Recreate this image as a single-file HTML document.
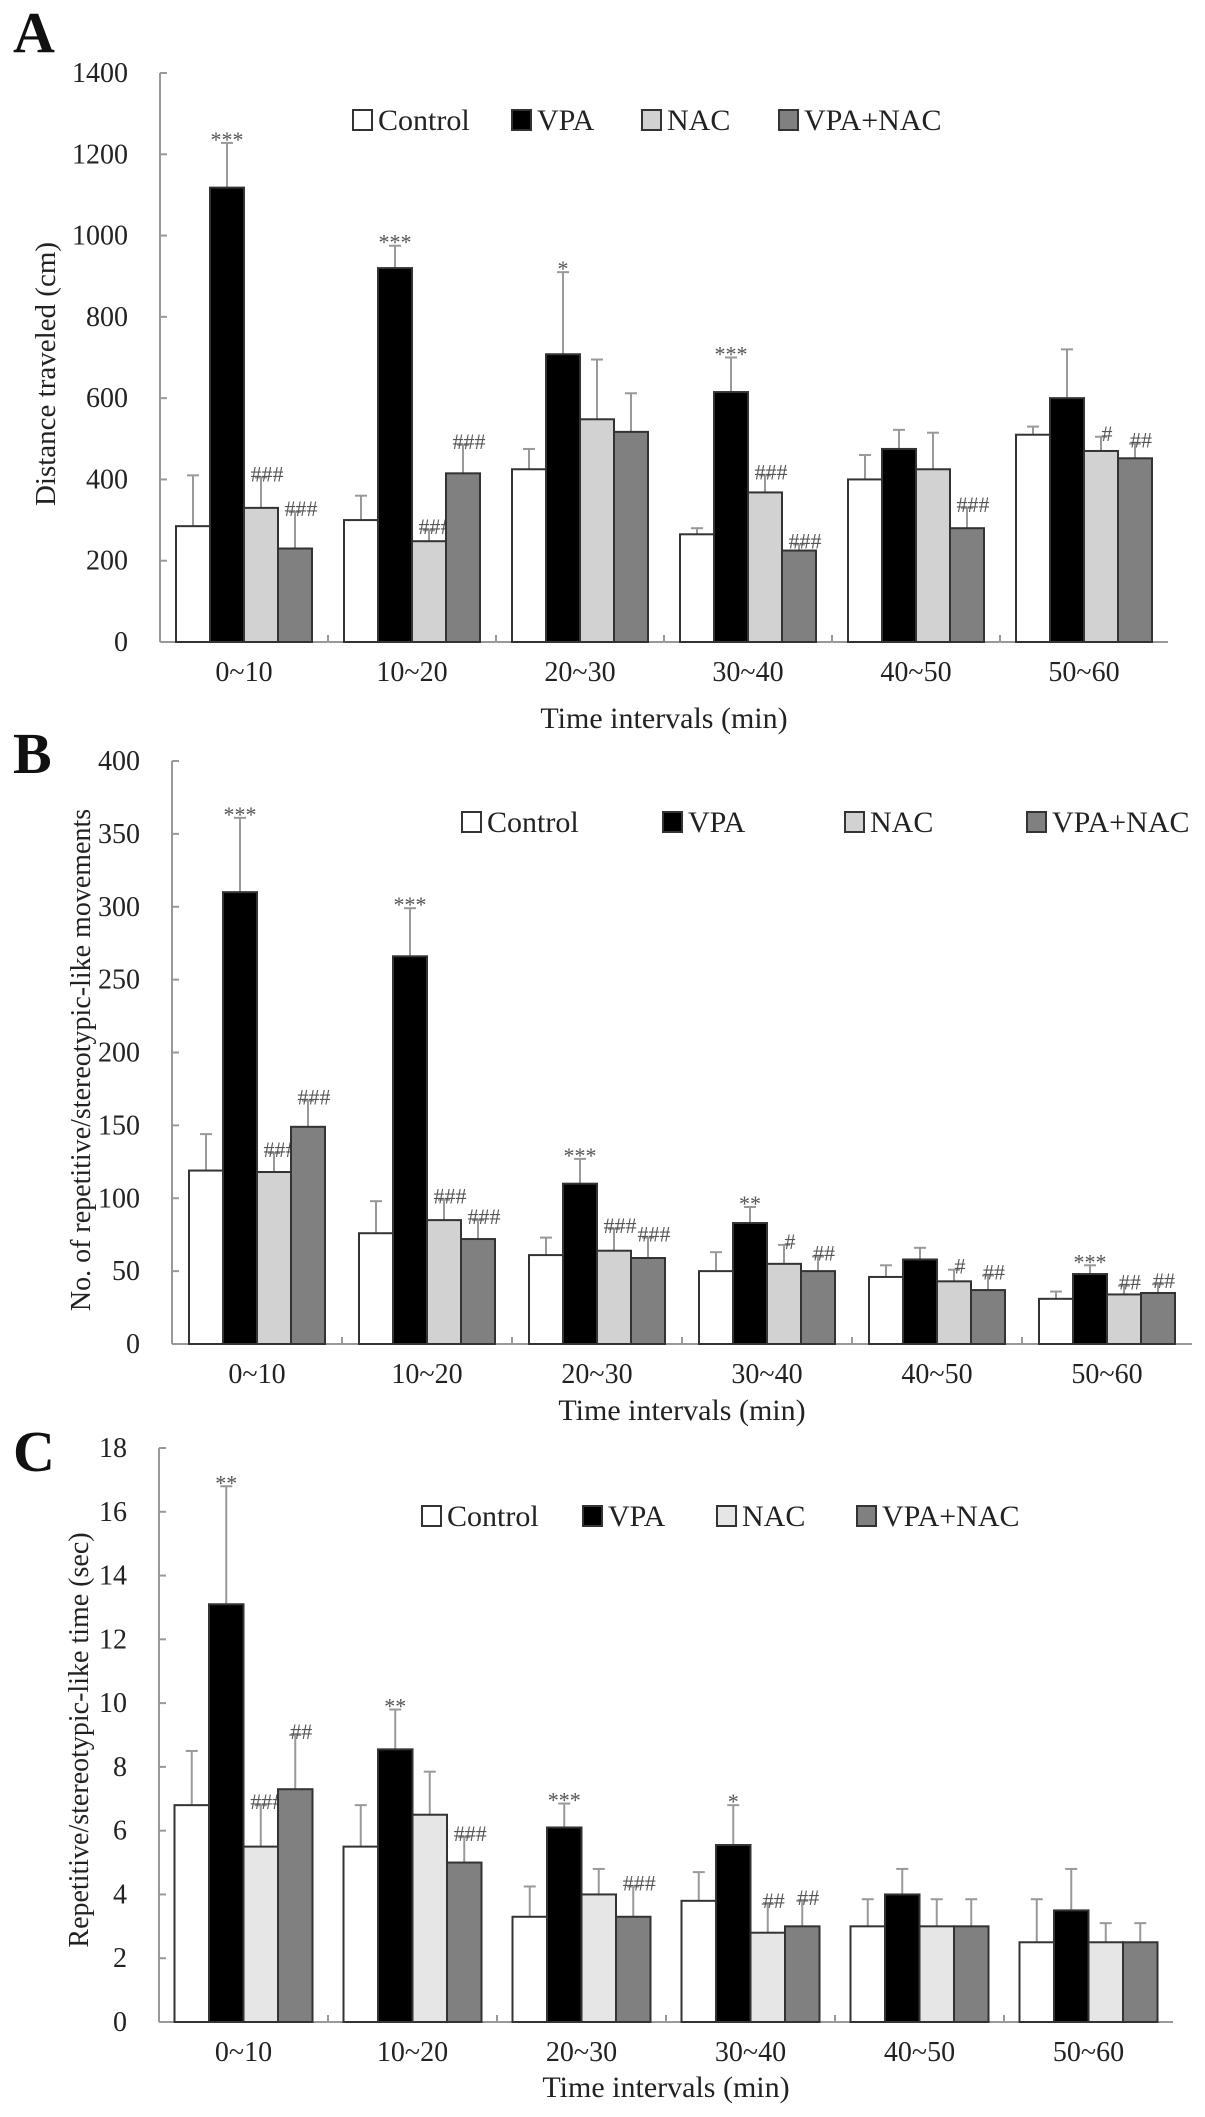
<!DOCTYPE html>
<html><head><meta charset="utf-8"><style>
html,body{margin:0;padding:0;background:#fff;}
svg{display:block;font-family:"Liberation Serif","DejaVu Serif",serif;}
</style></head><body>
<svg id="fig" width="1205" height="2117" viewBox="0 0 1205 2117" xmlns="http://www.w3.org/2000/svg"></svg>
<script>
const categories = ["0~10","10~20","20~30","30~40","40~50","50~60"];
const seriesNames = ["Control","VPA","NAC","VPA+NAC"];
// Panel A: distance traveled
const aControl = [285,300,425,265,400,510];
const aVPA = [1118,920,708,615,475,600];
const aNAC = [330,248,548,368,425,470];
const aVN = [230,415,517,225,280,452];
const aControlErr = [410,360,475,280,460,530];
const aVPAErr = [1228,975,910,700,522,720];
const aNACErr = [405,275,695,410,515,505];
const aVNErr = [320,485,612,240,330,488];
const aVPAMark = ["***","***","*","***","",""];
const aNACMark = ["###","###","","###","","#"];
const aVNMark = ["###","###","","###","###","##"];
const aTicks = [0,200,400,600,800,1000,1200,1400];
// Panel B: repetitive movements
const bControl = [119,76,61,50,46,31];
const bVPA = [310,266,110,83,58,48];
const bNAC = [118,85,64,55,43,34];
const bVN = [149,72,59,50,37,35];
const bControlErr = [144,98,73,63,54,36];
const bVPAErr = [361,299,127,94,66,54];
const bNACErr = [131,99,79,68,51,40];
const bVNErr = [167,85,73,60,47,41];
const bVPAMark = ["***","***","***","**","","***"];
const bNACMark = ["###","###","###","#","#","##"];
const bVNMark = ["###","###","###","##","##","##"];
const bTicks = [0,50,100,150,200,250,300,350,400];
// Panel C: repetitive time
const cControl = [6.8,5.5,3.3,3.8,3.0,2.5];
const cVPA = [13.1,8.55,6.1,5.55,4.0,3.5];
const cNAC = [5.5,6.5,4.0,2.8,3.0,2.5];
const cVN = [7.3,5.0,3.3,3.0,3.0,2.5];
const cControlErr = [8.5,6.8,4.25,4.7,3.85,3.85];
const cVPAErr = [16.8,9.8,6.85,6.8,4.8,4.8];
const cNACErr = [6.8,7.85,4.8,3.7,3.85,3.1];
const cVNErr = [9.0,5.8,4.25,3.8,3.85,3.1];
const cVPAMark = ["**","**","***","*","",""];
const cNACMark = ["###","","","##","",""];
const cVNMark = ["##","###","###","##","",""];
const cTicks = [0,2,4,6,8,10,12,14,16,18];

const NS="http://www.w3.org/2000/svg";
const svg=document.getElementById('fig');
function mk(tag,attrs,parent){const e=document.createElementNS(NS,tag);for(const k in attrs)e.setAttribute(k,attrs[k]);(parent||svg).appendChild(e);return e;}
function txt(s,attrs,parent){const e=mk('text',attrs,parent);e.textContent=s;return e;}

function panel(cfg){
  const g=mk('g',{});
  
  
  const x0=cfg.ax, x1=cfg.right, y0=cfg.y0, yt=cfg.ytop, vmax=cfg.ticks[cfg.ticks.length-1];
  const ys=v=>y0-(v/vmax)*(y0-yt);
  const cw=(x1-x0)/categories.length;
  const bw=cfg.bw;
  const xs=(ci,si)=>x0+ci*cw+(cw-4*bw)/2+si*bw;
  // panel letter
  const L=txt(cfg.letter,{x:13,y:cfg.letterY,'font-size':58,'font-weight':'bold',fill:'#111'},g);
  
  
  // axes
  const ya=mk('line',{x1:x0,y1:yt,x2:x0,y2:y0,stroke:'#999','stroke-width':2},g);
  
  
  const xa=mk('line',{x1:x0,y1:y0,x2:x1,y2:y0,stroke:'#999','stroke-width':2},g);
  
  
  cfg.ticks.forEach(t=>{
    const y=ys(t);
    mk('line',{x1:x0,y1:y,x2:x0+7,y2:y,stroke:'#999','stroke-width':2},g);
    const tl=txt(String(t),{x:x0-32,y:y+9,'font-size':28,'text-anchor':'end',fill:'#222'},g);
    
    
  });
  categories.forEach((c,ci)=>{
    if(ci>0) mk('line',{x1:x0+ci*cw,y1:y0,x2:x0+ci*cw,y2:y0-7,stroke:'#999','stroke-width':2},g);
    const cl=txt(c,{x:x0+ci*cw+cw/2,y:y0+39,'font-size':28,'text-anchor':'middle',fill:'#222'},g);
    
    
  });
  const fills=['#ffffff','#000000',cfg.nacFill,'#808080'];
  cfg.series.forEach((vals,si)=>{
    vals.forEach((v,ci)=>{
      const x=xs(ci,si), e=cfg.errs[si][ci];
      const el=mk('line',{x1:x+bw/2,y1:ys(e),x2:x+bw/2,y2:ys(v),stroke:'#999','stroke-width':2},g);
      
      
      mk('line',{x1:x+bw/2-6,y1:ys(e),x2:x+bw/2+6,y2:ys(e),stroke:'#999','stroke-width':2},g);
      const r=mk('rect',{x:x,y:ys(v),width:bw,height:y0-ys(v),fill:fills[si],stroke:'#333','stroke-width':2},g);
      
      
      const m=cfg.marks[si]?cfg.marks[si][ci]:'';
      if(m){
        const mt=txt(m,{x:x+bw/2+(si>=2?6:0),y:ys(e)+4,'font-size':22,'text-anchor':'middle',fill:'#555'},g);
        
        
      }
    });
  });
  // legend
  cfg.legX.forEach((lx,si)=>{
    const lg=mk('g',{},g);
    
    
    mk('rect',{x:lx,y:cfg.legY-10,width:19,height:20,fill:fills[si],stroke:'#333','stroke-width':2},lg);
    txt(seriesNames[si],{x:lx+25,y:cfg.legY+10,'font-size':30,fill:'#222'},lg);
  });
  const xt=txt('Time intervals (min)',{x:(x0+x1)/2,y:cfg.xTitleY,'font-size':30,'text-anchor':'middle',fill:'#222'},g);
  
  
  const yt2=txt(cfg.ytitle,{x:0,y:0,'font-size':cfg.ytFont,'text-anchor':'middle',fill:'#222',transform:`translate(${cfg.ytX},${cfg.ytY}) rotate(-90)`},g);
  
  
}

panel({id:'a',letter:'A',letterY:52,ax:160,right:1168,y0:642,ytop:73,bw:34,ticks:aTicks,
  series:[aControl,aVPA,aNAC,aVN],errs:[aControlErr,aVPAErr,aNACErr,aVNErr],
  marks:[null,aVPAMark,aNACMark,aVNMark],nacFill:'#d2d2d2',
  legX:[353,512,642,779],legY:120,xTitleY:728,ytitle:'Distance traveled (cm)',ytFont:29,ytX:55,ytY:374});
panel({id:'b',letter:'B',letterY:773,ax:172,right:1192,y0:1344,ytop:761,bw:34,ticks:bTicks,
  series:[bControl,bVPA,bNAC,bVN],errs:[bControlErr,bVPAErr,bNACErr,bVNErr],
  marks:[null,bVPAMark,bNACMark,bVNMark],nacFill:'#d2d2d2',
  legX:[462,663,845,1027],legY:822,xTitleY:1420,ytitle:'No. of repetitive/stereotypic-like movements',ytFont:28,ytX:90,ytY:1060});
panel({id:'c',letter:'C',letterY:1471,ax:159,right:1173,y0:2022,ytop:1448,bw:34.5,ticks:cTicks,
  series:[cControl,cVPA,cNAC,cVN],errs:[cControlErr,cVPAErr,cNACErr,cVNErr],
  marks:[null,cVPAMark,cNACMark,cVNMark],nacFill:'#e6e6e6',
  legX:[422,583,717,857],legY:1516,xTitleY:2097,ytitle:'Repetitive/stereotypic-like time (sec)',ytFont:28,ytX:88,ytY:1740});
</script>
</body></html>
